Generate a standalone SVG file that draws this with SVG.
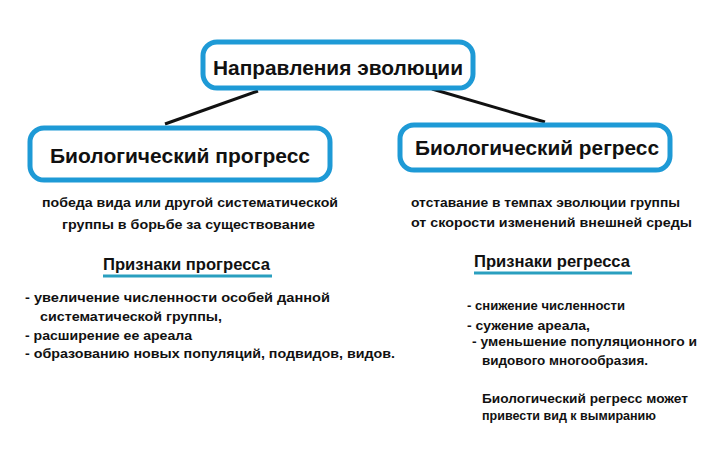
<svg xmlns="http://www.w3.org/2000/svg" width="715" height="467" viewBox="0 0 715 467">
<style>
.box{fill:#fff;stroke:#1e9ad6;stroke-width:5}
.h{font-family:"Liberation Sans",sans-serif;font-weight:bold;font-size:20px;fill:#111}
.t{font-family:"Liberation Sans",sans-serif;font-weight:bold;font-size:13px;fill:#111}
.s{font-family:"Liberation Sans",sans-serif;font-weight:bold;font-size:16px;fill:#111}
.u{stroke:#2a9fbf;stroke-width:3}
</style>
<rect width="715" height="467" fill="#fff"/>
<g id="connectors" stroke="#111" stroke-width="3">
<line x1="258" y1="91" x2="165" y2="124"/>
<line x1="432" y1="89" x2="545" y2="122"/>
</g>
<g id="top"><rect class="box" x="203" y="42" width="270" height="46" rx="14"/>
<text class="h" x="338" y="75" text-anchor="middle" textLength="250" lengthAdjust="spacingAndGlyphs">Направления эволюции</text></g>
<g id="progress"><rect class="box" x="30" y="128" width="300" height="52" rx="14"/>
<text class="h" x="180" y="163" text-anchor="middle" textLength="260" lengthAdjust="spacingAndGlyphs">Биологический прогресс</text></g>
<g id="regress"><rect class="box" x="400" y="125" width="270" height="45" rx="14"/>
<text class="h" x="537" y="155" text-anchor="middle" textLength="244" lengthAdjust="spacingAndGlyphs">Биологический регресс</text></g>
<g id="progress-desc">
<text class="t" x="42" y="207" textLength="296" lengthAdjust="spacingAndGlyphs">победа вида или другой систематической</text>
<text class="t" x="62" y="229" textLength="253" lengthAdjust="spacingAndGlyphs">группы в борьбе за существование</text>
</g>
<g id="regress-desc">
<text class="t" x="411" y="207" textLength="269" lengthAdjust="spacingAndGlyphs">отставание в темпах эволюции группы</text>
<text class="t" x="411" y="227" textLength="281" lengthAdjust="spacingAndGlyphs">от скорости изменений внешней среды</text>
</g>
<g id="progress-signs">
<text class="s" x="103" y="270" textLength="167" lengthAdjust="spacingAndGlyphs">Признаки прогресса</text>
<line class="u" x1="103" y1="276" x2="272" y2="276"/>
<text class="t" x="25" y="302" textLength="305" lengthAdjust="spacingAndGlyphs">-  увеличение численности особей данной</text>
<text class="t" x="40" y="321" textLength="182" lengthAdjust="spacingAndGlyphs">систематической группы,</text>
<text class="t" x="25" y="340" textLength="167" lengthAdjust="spacingAndGlyphs">-  расширение ее ареала</text>
<text class="t" x="25" y="358" textLength="370" lengthAdjust="spacingAndGlyphs">- образованию новых популяций, подвидов, видов.</text>
</g>
<g id="regress-signs">
<text class="s" x="474" y="267" textLength="156" lengthAdjust="spacingAndGlyphs">Признаки регресса</text>
<line class="u" x1="474" y1="273" x2="632" y2="273"/>
<text class="t" x="467" y="310" textLength="158" lengthAdjust="spacingAndGlyphs">- снижение численности</text>
<text class="t" x="467" y="330" textLength="123" lengthAdjust="spacingAndGlyphs">- сужение ареала,</text>
<text class="t" x="472" y="346" textLength="225" lengthAdjust="spacingAndGlyphs">- уменьшение популяционного и</text>
<text class="t" x="482" y="365" textLength="166" lengthAdjust="spacingAndGlyphs">видового многообразия.</text>
<text class="t" x="482" y="403" textLength="206" lengthAdjust="spacingAndGlyphs">Биологический регресс может</text>
<text class="t" x="482" y="420" textLength="174" lengthAdjust="spacingAndGlyphs">привести вид к вымиранию</text>
</g>
</svg>
